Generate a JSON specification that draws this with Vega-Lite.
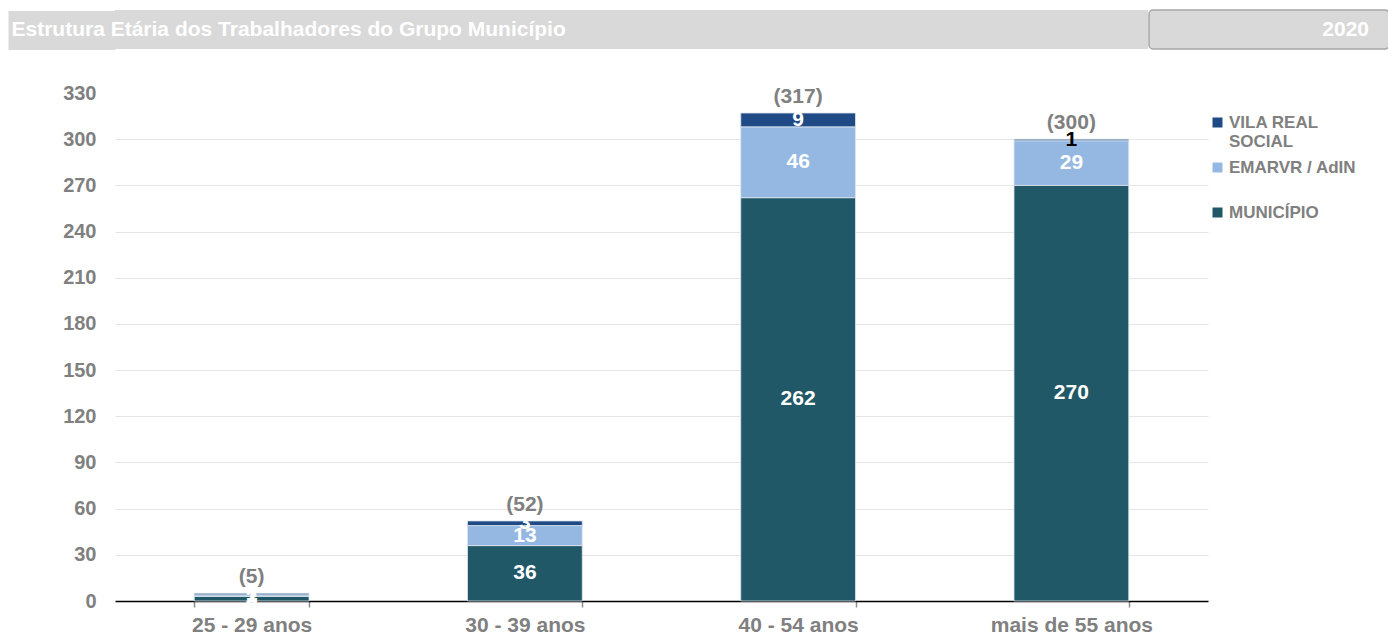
{
  "$schema": "https://vega.github.io/schema/vega-lite/v6.json",
  "padding": {"left": -12, "top": 9, "right": 0, "bottom": 0},
  "background": "white",
  "config": {
    "font": "Liberation Sans",
    "concat": {"spacing": 0},
    "view": {"stroke": null}
  },
  "datasets": {
    "header": [{"titulo": "Estrutura Etária dos Trabalhadores do Grupo Município", "ano": "2020"}],
    "dados": [
      {"faixa": "25 - 29 anos", "entidade": "MUNICÍPIO", "ordem": 1, "valor": 3},
      {"faixa": "25 - 29 anos", "entidade": "EMARVR / AdIN", "ordem": 2, "valor": 1},
      {"faixa": "25 - 29 anos", "entidade": "VILA REAL SOCIAL", "ordem": 3, "valor": 1},
      {"faixa": "30 - 39 anos", "entidade": "MUNICÍPIO", "ordem": 1, "valor": 36},
      {"faixa": "30 - 39 anos", "entidade": "EMARVR / AdIN", "ordem": 2, "valor": 13},
      {"faixa": "30 - 39 anos", "entidade": "VILA REAL SOCIAL", "ordem": 3, "valor": 3},
      {"faixa": "40 - 54 anos", "entidade": "MUNICÍPIO", "ordem": 1, "valor": 262},
      {"faixa": "40 - 54 anos", "entidade": "EMARVR / AdIN", "ordem": 2, "valor": 46},
      {"faixa": "40 - 54 anos", "entidade": "VILA REAL SOCIAL", "ordem": 3, "valor": 9},
      {"faixa": "mais de 55 anos", "entidade": "MUNICÍPIO", "ordem": 1, "valor": 270},
      {"faixa": "mais de 55 anos", "entidade": "EMARVR / AdIN", "ordem": 2, "valor": 29},
      {"faixa": "mais de 55 anos", "entidade": "VILA REAL SOCIAL", "ordem": 3, "valor": 1}
    ]
  },
  "resolve": {"legend": {"color": "independent"}},
  "spacing": 33,
  "vconcat": [
    {
      "hconcat": [
        {
          "width": 1033,
          "height": 39,
          "view": {"fill": "#d9d9d9", "stroke": null},
          "data": {"name": "header"},
          "mark": {"type": "text", "align": "left", "baseline": "middle", "dx": -620, "fontSize": 21, "fontWeight": "bold", "color": "white"},
          "encoding": {
            "y": {
              "datum": 0.5,
              "type": "quantitative",
              "scale": {"domain": [0, 1], "nice": false, "zero": false},
              "axis": {
                "title": null,
                "values": [0.5],
                "labels": false,
                "domain": false,
                "grid": false,
                "ticks": true,
                "tickSize": 107,
                "tickWidth": 39,
                "tickColor": "#d9d9d9",
                "tickCap": "butt",
                "minExtent": 107,
                "maxExtent": 107
              }
            },
            "text": {"field": "titulo"}
          }
        },
        {
          "width": 240,
          "height": 39,
          "view": {"fill": "#d9d9d9", "cornerRadius": 4, "stroke": "#a6a6a6", "strokeWidth": 1.5},
          "data": {"name": "header"},
          "mark": {"type": "text", "align": "right", "baseline": "middle", "dx": 100, "fontSize": 21, "fontWeight": "bold", "color": "white"},
          "encoding": {"text": {"field": "ano"}}
        }
      ]
    },
    {
      "width": 1093,
      "height": 508,
      "data": {"name": "dados"},
      "encoding": {
        "x": {
          "field": "faixa",
          "type": "nominal",
          "sort": null,
          "scale": {"paddingInner": 0.58, "paddingOuter": 0.29},
          "axis": {
            "title": null,
            "labelAngle": 0,
            "labelFontSize": 21,
            "labelFontWeight": "bold",
            "labelColor": "#808080",
            "labelPadding": 7,
            "domainColor": "black",
            "domainWidth": 1.5,
            "tickBand": "extent",
            "tickColor": "#8c8c8c",
            "tickSize": 6,
            "tickWidth": 1.5
          }
        }
      },
      "layer": [
        {
          "mark": {"type": "bar", "stroke": "#dde6ee", "strokeWidth": 0.8},
          "encoding": {
            "y": {
              "field": "valor",
              "type": "quantitative",
              "aggregate": "sum",
              "stack": "zero",
              "scale": {"domain": [0, 330], "nice": false},
              "axis": {
                "title": null,
                "values": [0, 30, 60, 90, 120, 150, 180, 210, 240, 270, 300, 330],
                "domain": false,
                "ticks": false,
                "labelFontSize": 20,
                "labelFontWeight": "bold",
                "labelColor": "#808080",
                "labelPadding": 19,
                "minExtent": 107,
                "maxExtent": 107,
                "gridColor": {"condition": {"test": "datum.value === 330 || datum.value === 0", "value": "transparent"}, "value": "#e6e6e6"},
                "gridWidth": 1
              }
            },
            "color": {
              "field": "entidade",
              "type": "nominal",
              "scale": {
                "domain": ["VILA REAL SOCIAL", "EMARVR / AdIN", "MUNICÍPIO"],
                "range": ["#1f4a85", "#95b8e3", "#215867"]
              },
              "legend": {
                "title": null,
                "orient": "right",
                "offset": -20,
                "padding": 21,
                "symbolType": "square",
                "symbolSize": 100,
                "symbolStrokeWidth": 0,
                "labelFontSize": 17,
                "labelFontWeight": "bold",
                "labelColor": "#808080",
                "labelOffset": 3,
                "rowPadding": 8,
                "labelExpr": "datum.label == 'VILA REAL SOCIAL' ? ['VILA REAL', 'SOCIAL'] : datum.label == 'EMARVR / AdIN' ? ['EMARVR / AdIN', ' '] : datum.label"
              }
            },
            "order": {"field": "ordem", "type": "quantitative"}
          }
        },
        {
          "mark": {"type": "text", "fontSize": 21, "fontWeight": "bold", "baseline": "middle"},
          "encoding": {
            "y": {"field": "valor", "type": "quantitative", "aggregate": "sum", "stack": "zero", "bandPosition": 0.5},
            "text": {"field": "valor", "type": "quantitative", "aggregate": "sum"},
            "color": {"condition": {"test": "datum.sum_valor === 1 && datum.faixa === 'mais de 55 anos'", "value": "black"}, "value": "white"},
            "order": {"field": "ordem", "type": "quantitative"},
            "detail": {"field": "entidade"}
          }
        },
        {
          "transform": [
            {"aggregate": [{"op": "sum", "field": "valor", "as": "total"}], "groupby": ["faixa"]},
            {"calculate": "'(' + datum.total + ')'", "as": "rotulo"}
          ],
          "mark": {"type": "text", "fontSize": 21, "fontWeight": "bold", "color": "#808080", "baseline": "middle", "dy": -16},
          "encoding": {
            "y": {"field": "total", "type": "quantitative"},
            "text": {"field": "rotulo"}
          }
        }
      ]
    }
  ]
}
